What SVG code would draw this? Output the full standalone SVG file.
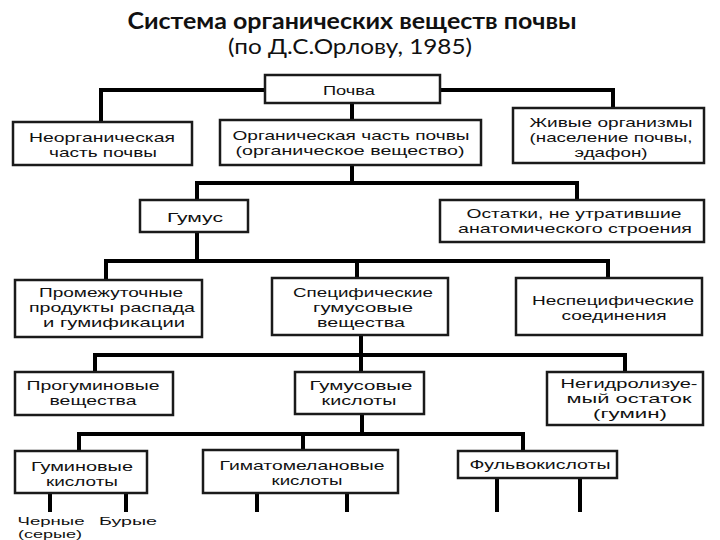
<svg xmlns="http://www.w3.org/2000/svg" width="720" height="540" viewBox="0 0 720 540">
<style>
.box{fill:#fff;stroke:#1a1a1a;stroke-width:2.5}
.t{font-family:"Liberation Sans",Arial,sans-serif;font-size:13px;fill:#111;text-anchor:middle}
.s{font-size:11px}
.c{stroke:#000;stroke-width:4;fill:none;stroke-linecap:butt}
.h1{font-family:Lato,"Open Sans",sans-serif;font-size:22px;font-weight:bold;fill:#111;text-anchor:middle}
.h2{font-family:Lato,"Open Sans",sans-serif;font-size:21px;fill:#111;text-anchor:middle}
</style>
<rect width="720" height="540" fill="#fff"/>
<text class="h1" x="352" y="29" textLength="449" lengthAdjust="spacingAndGlyphs">Система органических веществ почвы</text>
<text class="h2" x="350" y="54" textLength="244" lengthAdjust="spacingAndGlyphs">(по Д.С.Орлову, 1985)</text>
<g id="connectors">
<path class="c" d="M101 124V90H613V110"/>
<path class="c" d="M352 103V121"/>
<path class="c" d="M352 165V183M197 202V183H577V202"/>
<path class="c" d="M197 232V261M106 282V261H608V280M357 261V280"/>
<path class="c" d="M361 335V373M95 374V355H625V374"/>
<path class="c" d="M362 414V434M79 453V434H523V453M303 434V452"/>
<path class="c" d="M50 493V512M126 493V512M257 493V512M347 493V512M497 478V512M580 478V512"/>
</g>
<g id="n-pochva"><rect class="box" x="265" y="75" width="175" height="28"/><text class="t" x="349" y="95" textLength="52" lengthAdjust="spacingAndGlyphs">Почва</text></g>
<g id="n-neorg"><rect class="box" x="13" y="122" width="179" height="43"/><text class="t" x="102" y="142" textLength="146" lengthAdjust="spacingAndGlyphs">Неорганическая</text><text class="t" x="103" y="157" textLength="108" lengthAdjust="spacingAndGlyphs">часть почвы</text></g>
<g id="n-org"><rect class="box" x="220" y="120" width="261" height="45"/><text class="t" x="351" y="140" textLength="237" lengthAdjust="spacingAndGlyphs">Органическая часть почвы</text><text class="t" x="350" y="155" textLength="229" lengthAdjust="spacingAndGlyphs">(органическое вещество)</text></g>
<g id="n-zhivye"><rect class="box" x="513" y="108" width="191" height="55"/><text class="t" x="611" y="127" textLength="163" lengthAdjust="spacingAndGlyphs">Живые организмы</text><text class="t" x="611" y="142" textLength="163" lengthAdjust="spacingAndGlyphs">(население почвы,</text><text class="t" x="611" y="157" textLength="73" lengthAdjust="spacingAndGlyphs">эдафон)</text></g>
<g id="n-gumus"><rect class="box" x="140" y="200" width="108" height="32"/><text class="t" x="195" y="222" textLength="56" lengthAdjust="spacingAndGlyphs">Гумус</text></g>
<g id="n-ostatki"><rect class="box" x="440" y="200" width="264" height="42"/><text class="t" x="574" y="218" textLength="215" lengthAdjust="spacingAndGlyphs">Остатки, не утратившие</text><text class="t" x="575" y="233" textLength="234" lengthAdjust="spacingAndGlyphs">анатомического строения</text></g>
<g id="n-promezh"><rect class="box" x="15" y="280" width="187" height="57"/><text class="t" x="111" y="297" textLength="144" lengthAdjust="spacingAndGlyphs">Промежуточные</text><text class="t" x="112" y="312" textLength="166" lengthAdjust="spacingAndGlyphs">продукты распада</text><text class="t" x="114" y="327" textLength="142" lengthAdjust="spacingAndGlyphs">и гумификации</text></g>
<g id="n-specif"><rect class="box" x="272" y="278" width="176" height="57"/><text class="t" x="363" y="297" textLength="140" lengthAdjust="spacingAndGlyphs">Специфические</text><text class="t" x="363" y="312" textLength="100" lengthAdjust="spacingAndGlyphs">гумусовые</text><text class="t" x="361" y="327" textLength="88" lengthAdjust="spacingAndGlyphs">вещества</text></g>
<g id="n-nespecif"><rect class="box" x="516" y="278" width="186" height="57"/><text class="t" x="613" y="305" textLength="162" lengthAdjust="spacingAndGlyphs">Неспецифические</text><text class="t" x="614" y="320" textLength="105" lengthAdjust="spacingAndGlyphs">соединения</text></g>
<g id="n-progum"><rect class="box" x="15" y="372" width="158" height="43"/><text class="t" x="93" y="390" textLength="133" lengthAdjust="spacingAndGlyphs">Прогуминовые</text><text class="t" x="93" y="405" textLength="87" lengthAdjust="spacingAndGlyphs">вещества</text></g>
<g id="n-gumkisl"><rect class="box" x="295" y="372" width="129" height="42"/><text class="t" x="361" y="390" textLength="103" lengthAdjust="spacingAndGlyphs">Гумусовые</text><text class="t" x="359" y="405" textLength="75" lengthAdjust="spacingAndGlyphs">кислоты</text></g>
<g id="n-negidr"><rect class="box" x="547" y="372" width="156" height="53"/><text class="t" x="629" y="388" textLength="137" lengthAdjust="spacingAndGlyphs">Негидролизуе-</text><text class="t" x="629" y="403" textLength="125" lengthAdjust="spacingAndGlyphs">мый остаток</text><text class="t" x="630" y="418" textLength="74" lengthAdjust="spacingAndGlyphs">(гумин)</text></g>
<g id="n-gumin"><rect class="box" x="15" y="451" width="132" height="42"/><text class="t" x="82" y="471" textLength="102" lengthAdjust="spacingAndGlyphs">Гуминовые</text><text class="t" x="82" y="486" textLength="72" lengthAdjust="spacingAndGlyphs">кислоты</text></g>
<g id="n-gimat"><rect class="box" x="203" y="450" width="195" height="43"/><text class="t" x="302" y="470" textLength="165" lengthAdjust="spacingAndGlyphs">Гиматомелановые</text><text class="t" x="307" y="485" textLength="71" lengthAdjust="spacingAndGlyphs">кислоты</text></g>
<g id="n-fulvo"><rect class="box" x="458" y="451" width="159" height="27"/><text class="t" x="540" y="469" textLength="141" lengthAdjust="spacingAndGlyphs">Фульвокислоты</text></g>
<g id="labels">
<text class="t s" x="51" y="525" textLength="67" lengthAdjust="spacingAndGlyphs">Черные</text>
<text class="t s" x="50" y="538" textLength="64" lengthAdjust="spacingAndGlyphs">(серые)</text>
<text class="t s" x="128" y="525" textLength="58" lengthAdjust="spacingAndGlyphs">Бурые</text>
</g>
</svg>
